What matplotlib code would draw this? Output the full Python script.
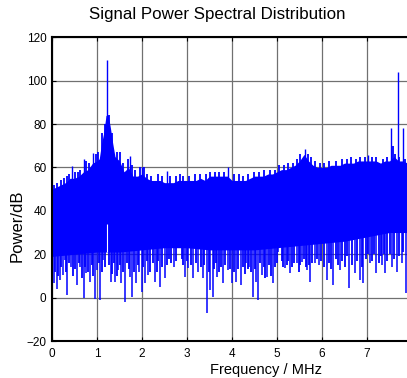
import numpy as np
import matplotlib
matplotlib.use("Agg")
import matplotlib.pyplot as plt

plt.rcParams['font.family'] = ['Liberation Sans', 'DejaVu Sans']

# Upper edge of the dense noise band (MHz, dB)
upper_freq = [0.0, 0.1, 0.2, 0.3, 0.4, 0.5, 0.6, 0.7, 0.8, 0.9, 1.0, 1.05, 1.1, 1.15,
              1.2, 1.25, 1.3, 1.35, 1.4, 1.5, 1.6, 1.7, 1.8, 1.9, 2.0, 2.1, 2.2, 2.3,
              2.4, 2.5, 2.6, 2.7, 2.8, 2.9, 3.0, 3.1, 3.2, 3.3, 3.4, 3.5, 3.6, 3.7,
              3.8, 3.9, 4.0, 4.1, 4.2, 4.3, 4.4, 4.5, 4.6, 4.7, 4.8, 4.9, 5.0, 5.1,
              5.2, 5.3, 5.4, 5.5, 5.6, 5.7, 5.8, 5.9, 6.0, 6.1, 6.2, 6.3, 6.4, 6.5,
              6.6, 6.7, 6.8, 6.9, 7.0, 7.1, 7.2, 7.3, 7.4, 7.5, 7.6, 7.7, 7.8, 7.9, 8.0]
upper_db = [50, 51, 52, 53, 55, 55, 56, 58, 59, 62, 63, 64, 71, 76,
            84, 84, 78, 71, 65, 63, 58, 60, 56, 56, 57, 55, 54, 54,
            54, 53, 53, 53, 54, 54, 54, 54, 54, 55, 54, 56, 56, 56,
            56, 56, 54, 54, 54, 54, 55, 56, 56, 56, 57, 57, 58, 59,
            59, 60, 61, 63, 66, 63, 61, 60, 60, 60, 61, 61, 61, 62,
            62, 62, 63, 63, 63, 63, 63, 62, 63, 63, 65, 63, 63, 62, 62]

# Lower edge of the solid part of the band (MHz, dB)
lower_freq = [0.0, 0.5, 1.0, 1.5, 2.0, 2.5, 3.0, 3.5, 4.0, 4.5, 5.0, 5.5, 6.0, 6.5, 7.0, 7.5, 8.0]
lower_db = [19, 20, 21, 21, 22, 23, 23, 22, 22, 22, 23, 24, 25, 26, 28, 30, 30]

# Upward narrow peaks (MHz, dB)
peak_freq = [0.44, 0.70, 0.92, 1.23, 1.73, 1.99, 2.55, 3.90, 5.62, 7.03, 7.53, 7.68, 7.81]
peak_db = [60.5, 64, 66.5, 109.5, 65.3, 60, 58.4, 60.4, 68.4, 65.8, 78, 104.2, 78]

# Small ripples on the top edge (MHz, dB)
ripple_freq = [0.05, 0.12, 0.2, 0.27, 0.33, 0.38, 0.5, 0.57, 0.63, 0.75, 0.82, 0.97, 1.02,
               1.12, 1.17, 1.27, 1.33, 1.45, 1.5, 1.58, 1.68, 1.78, 1.85, 1.95, 2.05, 2.12,
               2.2, 2.35, 2.45, 2.62, 2.75, 2.85, 2.92, 3.05, 3.18, 3.28, 3.42, 3.52, 3.62,
               3.72, 3.82, 4.05, 4.15, 4.25, 4.35, 4.48, 4.6, 4.72, 4.85, 4.95, 5.05, 5.15,
               5.25, 5.35, 5.45, 5.52, 5.68, 5.75, 5.85, 5.95, 6.05, 6.15, 6.3, 6.45, 6.55,
               6.65, 6.75, 6.85, 6.95, 7.1, 7.2, 7.35, 7.45, 7.58, 7.62, 7.72, 7.85]
ripple_db = [52, 53, 54, 55, 56, 57, 58, 58, 59, 63, 62, 66, 67,
             76, 80, 84, 76, 67, 67, 62, 64, 61, 59, 60, 60, 57,
             56, 57, 56, 56, 56, 57, 56, 56, 57, 57, 57, 58, 58,
             58, 58, 57, 57, 56, 57, 58, 58, 59, 59, 59, 61, 61,
             62, 62, 64, 66, 66, 65, 63, 62, 62, 63, 63, 64, 64,
             65, 64, 65, 65, 65, 65, 64, 65, 70, 66, 65, 64]

# Deep downward dips (MHz, dB)
dip_freq = [0.04, 0.10, 0.18, 0.24, 0.29, 0.34, 0.42, 0.55, 0.62, 0.70, 0.76, 0.84,
            0.96, 1.01, 1.07, 1.14, 1.30, 1.40, 1.47, 1.53, 1.62, 1.73, 1.77, 1.87,
            1.94, 1.99, 2.07, 2.14, 2.29, 2.40, 2.51, 2.70, 2.81, 2.96, 3.03, 3.14,
            3.25, 3.35, 3.44, 3.51, 3.57, 3.67, 3.81, 3.90, 4.01, 4.09, 4.19, 4.31,
            4.38, 4.46, 4.53, 4.58, 4.66, 4.77, 4.90, 5.03, 5.18, 5.29, 5.44, 5.55,
            5.67, 5.73, 5.84, 5.94, 6.10, 6.25, 6.40, 6.60, 6.73, 6.84, 6.92, 7.07,
            7.21, 7.33, 7.40, 7.55, 7.66, 7.77, 7.86]
dip_db = [6.6, 4, 8.2, 10.5, 17.4, 1.2, 14.3, 5.9, 14.3, -0.3, 11.2, 7.4,
          -0.7, 12.8, -1, 17.4, 7.4, 7.4, 12.8, 6.6, -1.8, 9.7, 0.5, 6.6,
          12, 2.8, 6.6, 10.5, 7.4, 5.1, 9, 14.3, 23.5, 9.7, 13.5, 9,
          12, 9, -7, 3.5, 0.5, 9.7, 6.6, 12.8, 6.6, 7.4, 5.9, 15.8,
          14.3, 0.5, 7.4, -1, 10.5, 9.7, 6.6, 21.2, 13.5, 11.2, 15.8, 16.6,
          12.8, 7.4, 15.8, 15, 8.2, 5.9, 12.8, 4.4, 11.2, 8.2, 6.6, 15.8,
          11.5, 15, 11.2, 14.3, 12, 15.8, 2]

# Shallower downward dips filling the lower edge (MHz, dB)
minor_freq = [0.07, 0.14, 0.21, 0.32, 0.38, 0.46, 0.5, 0.59, 0.66, 0.73, 0.8, 0.88, 0.92,
              1.04, 1.1, 1.18, 1.27, 1.34, 1.37, 1.44, 1.5, 1.57, 1.66, 1.7, 1.82, 1.9,
              2.02, 2.1, 2.18, 2.25, 2.33, 2.36, 2.45, 2.55, 2.6, 2.65, 2.76, 2.88, 2.92,
              3.0, 3.08, 3.2, 3.3, 3.38, 3.48, 3.6, 3.64, 3.72, 3.76, 3.85, 3.95, 4.05,
              4.14, 4.24, 4.28, 4.35, 4.42, 4.5, 4.62, 4.7, 4.73, 4.82, 4.86, 4.95, 5.0,
              5.1, 5.14, 5.22, 5.25, 5.33, 5.38, 5.48, 5.52, 5.6, 5.64, 5.7, 5.78, 5.88,
              5.98, 6.04, 6.15, 6.2, 6.3, 6.35, 6.45, 6.5, 6.55, 6.66, 6.78, 6.88, 6.97,
              7.02, 7.12, 7.16, 7.26, 7.3, 7.37, 7.45, 7.5, 7.6, 7.72, 7.8]
minor_db = [12, 10, 14, 12, 16, 10, 13, 16, 9, 14, 12, 15, 10,
            16, 12, 14, 15, 11, 16, 10, 15, 12, 16, 13, 12, 15,
            14, 17, 12, 16, 12, 17, 14, 15, 18, 16, 17, 18, 15,
            17, 15, 16, 14, 15, 12, 13, 16, 12, 14, 15, 13, 12,
            13, 14, 11, 13, 12, 13, 16, 14, 9, 15, 10, 14, 16,
            17, 14, 15, 17, 14, 16, 12, 15, 18, 14, 15, 16, 18,
            17, 14, 16, 13, 18, 15, 17, 14, 19, 15, 17, 14, 18,
            20, 17, 20, 16, 19, 20, 17, 20, 18, 19, 21]

# Narrow white gap inside the band at the main tone
gap_freq = [1.23]
gap_low = [21]
gap_high = [34]

xticks = [0, 1, 2, 3, 4, 5, 6, 7, 8]
yticks = [-20, 0, 20, 40, 60, 80, 100, 120]

W, H = 407, 378
fig = plt.figure(figsize=(W / 100, H / 100), dpi=100)
ax = fig.add_axes([52 / W, (H - 341) / H, 360 / W, 303.7 / H])

blue = '#0000ff'
ax.fill_between(upper_freq, 35, upper_db, color=blue, lw=0, zorder=2)
ax.fill_between(lower_freq, lower_db, 36, color=blue, lw=0, zorder=2)
ax.vlines(peak_freq, 45, peak_db, color=blue, lw=1.0, zorder=2)
ax.vlines(ripple_freq, 45, ripple_db, color=blue, lw=1.3, zorder=2)
ax.vlines(dip_freq, dip_db, 35, color=blue, lw=1.1, zorder=2)
ax.vlines(minor_freq, minor_db, 35, color=blue, lw=1.3, zorder=2)
ax.vlines(gap_freq, gap_low, gap_high, color='white', lw=0.8, zorder=2)

ax.set_xlim(0, 8)
ax.set_ylim(-20, 120)
ax.set_xticks(xticks)
ax.set_yticks(yticks)
ax.tick_params(direction='in', length=3, width=0.8, labelsize=8.5,
               top=True, right=True, colors='black')
ax.tick_params(axis='x', pad=5)
ax.tick_params(axis='y', pad=4)
ax.grid(True, color='#707070', lw=0.9)
ax.set_axisbelow(True)
for s in ax.spines.values():
    s.set_linewidth(1.5)
    s.set_color('black')

fig.text(217 / W, 1 - 15 / H, 'Signal Power Spectral Distribution',
         ha='center', va='center', fontsize=12.2)
fig.text(266 / W, 1 - 370 / H, 'Frequency / MHz', ha='center', va='center', fontsize=10.5)
fig.text(17.5 / W, 1 - 226 / H, 'Power/dB', ha='center', va='center',
         rotation=90, fontsize=12)

fig.savefig('out.png', dpi=100)
